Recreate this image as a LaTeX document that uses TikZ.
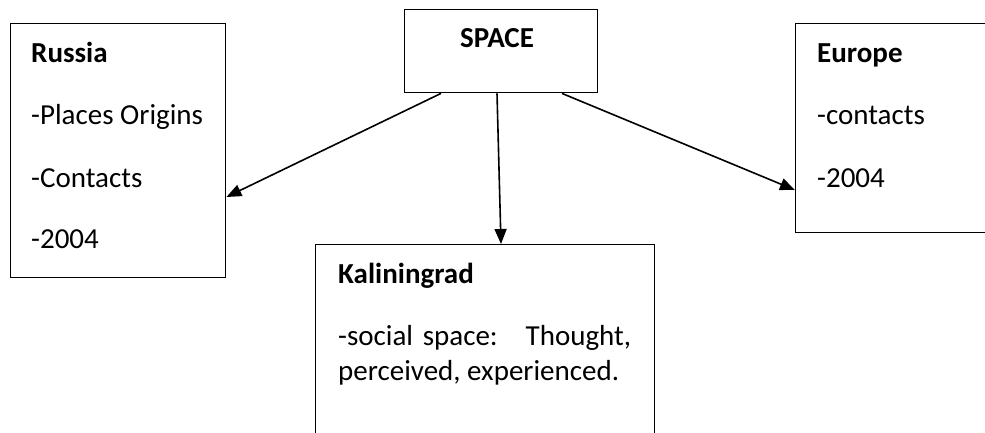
\documentclass[tikz,border=0pt]{standalone}
\usepackage{fontspec}
\setmainfont{Carlito}
\usetikzlibrary{arrows.meta}
\usetikzlibrary{positioning}

\begin{document}
\begin{tikzpicture}[x=1pt,y=-1pt,
  box/.style={draw,line width=1.4pt,anchor=north west,inner sep=0pt},
  txt/.style={anchor=base west,inner sep=0pt,font=\fontsize{29}{35}\selectfont},
  head/.style={txt,font=\fontsize{29}{35}\selectfont\bfseries},
  link/.style={line width=1.6pt,-{Triangle[length=15pt,width=12pt]}}]
  \useasboundingbox (0,0) rectangle (985,432);

  % the four boxes
  \node[box,minimum width=193pt,minimum height=83pt] (space) at (404,9) {};
  \node[box,minimum width=215pt,minimum height=254pt] (russia) at (10,23) {};
  \node[box,minimum width=200pt,minimum height=209pt] (europe) at (795,23) {};
  \node[box,minimum width=339pt,minimum height=200pt] (kalin) at (315,244) {};

  % texts
  \node[head,anchor=base] (spacehd) at (497,47) {SPACE};

  \node[head] (russiahd) at (31,62) {Russia};
  \node[txt] (russia1) at (31,124) {-Places Origins};
  \node[txt] (russia2) at (31,187) {-Contacts};
  \node[txt] (russia3) at (31,248) {-2004};

  \node[head] (europehd) at (817,62) {Europe};
  \node[txt] (europe1) at (817,124) {-contacts};
  \node[txt] (europe2) at (817,187) {-2004};

  \node[head] (kalinhd) at (338,283) {Kaliningrad};
  \node[txt,text width=293pt] (kalin1) at (338,345) {-social space:\hfill Thought,};
  \node[txt] (kalin2) at (338,380) {perceived, experienced.};

  % arrows out of SPACE
  \draw[link] ([xshift=37pt]space.south west) -- ([yshift=-174pt]russia.north east);
  \draw[link] ([xshift=93pt]space.south west) -- ([xshift=186pt]kalin.north west);
  \draw[link] ([xshift=158pt]space.south west) -- ([yshift=-167pt]europe.north west);
\end{tikzpicture}
\end{document}
